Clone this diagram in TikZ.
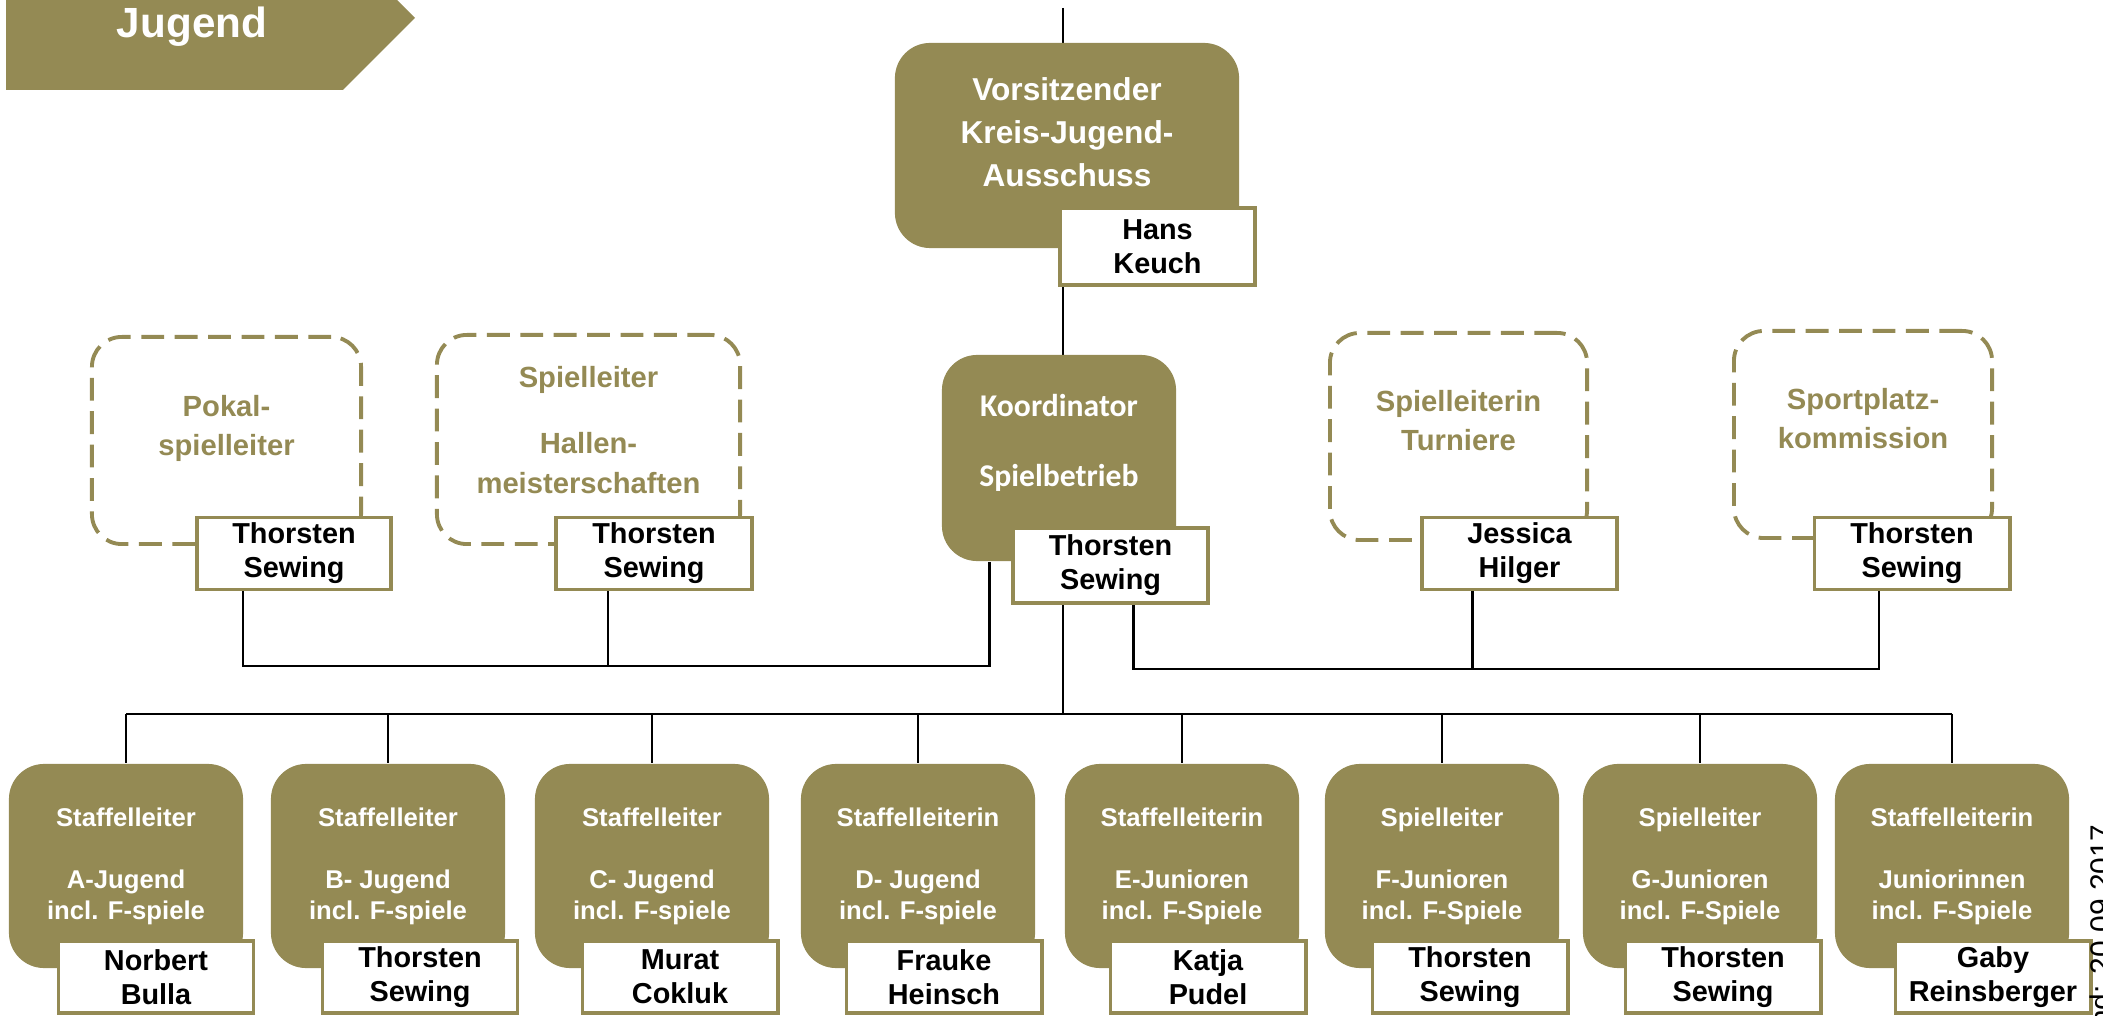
\documentclass[tikz,border=0pt]{standalone}
\usepackage{fontspec}
\setmainfont{Liberation Sans}
\newfontfamily\calibrifont{Carlito}
\usepackage{tikz}
\usetikzlibrary{positioning,backgrounds,calc}

\definecolor{kreisolive}{RGB}{148,138,84}
\newcommand{\titlefont}{\fontsize{12}{14}\selectfont\bfseries}
\newcommand{\chairfont}{\fontsize{9}{12.2}\selectfont\bfseries}
\newcommand{\coordfont}{\fontsize{9}{19.9}\selectfont\calibrifont\bfseries}
\newcommand{\personfont}{\fontsize{8.2}{9.7}\selectfont\bfseries}
\newcommand{\rolefont}{\fontsize{7.3}{8.8}\selectfont\bfseries}
\newcommand{\openfont}{\fontsize{8.3}{11.1}\selectfont\bfseries}

\begin{document}
\begin{tikzpicture}[
    x=0.01cm, y=-0.01cm,
    rolebox/.style={fill=kreisolive, rounded corners=10pt, inner sep=0pt, minimum width=2.34cm, minimum height=2.04cm, text=white, align=center, font=\rolefont},
    openbox/.style={draw=kreisolive, line width=1.1pt, dash pattern=on 6.5pt off 3pt, rounded corners=8.5pt, inner sep=0pt},
    opentext/.style={text=kreisolive, align=center, font=\openfont},
    personbox/.style={draw=kreisolive, line width=1.1pt, fill=white, inner sep=0pt, minimum width=1.95cm, minimum height=0.72cm, align=center, font=\personfont},
    link/.style={draw=black, line width=0.8pt}
]
\useasboundingbox (0,0) rectangle (2103,1016);

% banner
\fill[kreisolive] (6,0) -- (397,0) -- (415,18) -- (343,90) -- (6,90) -- cycle;
\node[font=\titlefont, text=white, anchor=base] (title) at (192,38) {Jugend};

% chairman
\node[rolebox, minimum width=3.44cm, minimum height=2.05cm] (chair) at (1067,145.5) {};
\node[text=white, align=center, font=\chairfont] (chairtext) at (1067,132) {Vorsitzender\\Kreis-Jugend-\\Ausschuss};
\node[personbox, minimum height=0.77cm] (chairname) at (1157.5,246.5) {Hans\\Keuch};

% coordinator
\node[rolebox, minimum height=2.06cm] (coord) at (1059,458) {};
\node[text=white, align=center, font=\coordfont] (coordtext) at (1059,443) {Koordinator\\Spielbetrieb};
\node[personbox, minimum height=0.75cm] (coordname) at (1110.5,565.5) {Thorsten\\Sewing};

% open posts
\node[openbox, minimum width=2.69cm, minimum height=2.07cm] (cup) at (226.5,440.5) {};
\node[opentext] (cuptext) at (226.5,428) {Pokal-\\spielleiter};
\node[personbox, minimum width=1.94cm] (cupname) at (294,553.5) {Thorsten\\Sewing};

\node[openbox, minimum width=3.03cm, minimum height=2.09cm] (hall) at (588.5,439.5) {};
\node[opentext] (halltext) at (588.5,430) {Spielleiter\\[7.7pt]Hallen-\\meisterschaften};
\node[personbox, minimum width=1.96cm] (hallname) at (654,553.5) {Thorsten\\Sewing};

\node[openbox, minimum width=2.57cm, minimum height=2.07cm] (tour) at (1458.5,436.5) {};
\node[opentext] (tourtext) at (1458.5,421) {Spielleiterin\\Turniere};
\node[personbox] (tourname) at (1519.5,553.5) {Jessica\\Hilger};

\node[openbox, minimum width=2.58cm, minimum height=2.07cm] (field) at (1863,434.5) {};
\node[opentext] (fieldtext) at (1863,419) {Sportplatz-\\kommission};
\node[personbox] (fieldname) at (1912,553.5) {Thorsten\\Sewing};

% leagues
\node[rolebox] (ajun) at (126,866) {Staffelleiter\\[8.8pt]A-Jugend\\incl. F-spiele};
\node[personbox] (ajunname) at (156,977) {Norbert\\Bulla};
\node[rolebox] (bjun) at (388,866) {Staffelleiter\\[8.8pt]B- Jugend\\incl. F-spiele};
\node[personbox] (bjunname) at (420,977) {Thorsten\\Sewing};
\node[rolebox] (cjun) at (652,866) {Staffelleiter\\[8.8pt]C- Jugend\\incl. F-spiele};
\node[personbox] (cjunname) at (680,977) {Murat\\Cokluk};
\node[rolebox] (djun) at (918,866) {Staffelleiterin\\[8.8pt]D- Jugend\\incl. F-spiele};
\node[personbox] (djunname) at (944,977) {Frauke\\Heinsch};
\node[rolebox] (ejun) at (1182,866) {Staffelleiterin\\[8.8pt]E-Junioren\\incl. F-Spiele};
\node[personbox] (ejunname) at (1208,977) {Katja\\Pudel};
\node[rolebox] (fjun) at (1442,866) {Spielleiter\\[8.8pt]F-Junioren\\incl. F-Spiele};
\node[personbox] (fjunname) at (1470,977) {Thorsten\\Sewing};
\node[rolebox] (gjun) at (1700,866) {Spielleiter\\[8.8pt]G-Junioren\\incl. F-Spiele};
\node[personbox] (gjunname) at (1723,977) {Thorsten\\Sewing};
\node[rolebox] (girls) at (1952,866) {Staffelleiterin\\[8.8pt]Juniorinnen\\incl. F-Spiele};
\node[personbox] (girlsname) at (1993,977) {Gaby\\Reinsberger};

% date
\node[font=\fontsize{8.5}{10}\selectfont, rotate=90, anchor=base east] (stand) at (2111,812) {Stand: 20.09.2017};

% connectors
\begin{scope}[on background layer]
\coordinate (top) at (1063,8);
\coordinate (hub) at (1063,714);
\coordinate (leftbus) at (0,666);
\coordinate (rightbus) at (0,669);
\coordinate (coordfoot) at ($(coord.south west)+(48,0)$);
\coordinate (coordnamefoot) at ($(coordname.south)+(23,0)$);
\coordinate (cupfoot) at ($(cupname.south)+(-51,0)$);
\coordinate (hallfoot) at ($(hallname.south)+(-46,0)$);
\coordinate (tourfoot) at ($(tourname.south)+(-47,0)$);
\coordinate (fieldfoot) at ($(fieldname.south)+(-33,0)$);

\draw[link] (top) -- (hub);
\draw[link] (coordfoot) |- (leftbus -| cupfoot) -- (cupfoot);
\draw[link] (hallfoot) -- (hallfoot |- leftbus);
\draw[link] (coordnamefoot) |- (rightbus -| fieldfoot) -- (fieldfoot);
\draw[link] (tourfoot) -- (tourfoot |- rightbus);

\draw[link] (hub -| ajun.north) -- (hub -| girls.north);
\draw[link] (hub -| ajun.north) -- (ajun.north);
\draw[link] (hub -| bjun.north) -- (bjun.north);
\draw[link] (hub -| cjun.north) -- (cjun.north);
\draw[link] (hub -| djun.north) -- (djun.north);
\draw[link] (hub -| ejun.north) -- (ejun.north);
\draw[link] (hub -| fjun.north) -- (fjun.north);
\draw[link] (hub -| gjun.north) -- (gjun.north);
\draw[link] (hub -| girls.north) -- (girls.north);
\end{scope}
\end{tikzpicture}
\end{document}
